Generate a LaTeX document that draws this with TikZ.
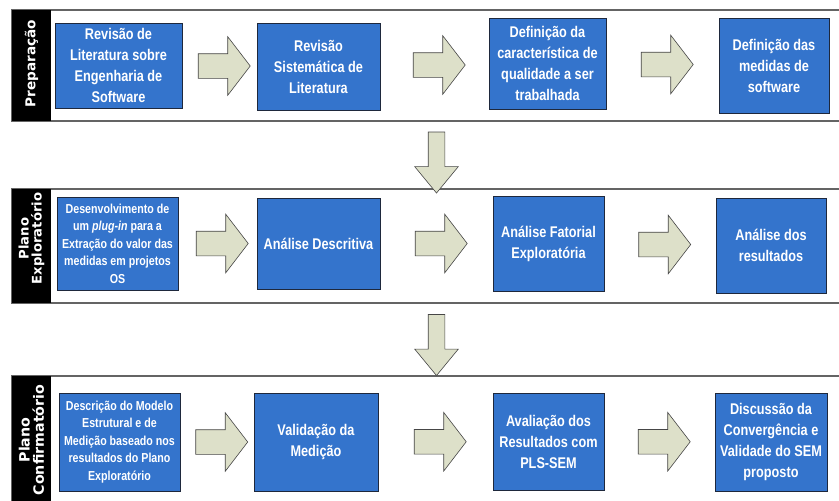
\documentclass[tikz,border=0pt]{standalone}
\usepackage{fontspec}
\setmainfont{Liberation Sans}
\newfontfamily\estreita[FakeStretch=0.82]{Liberation Sans}
\newfontfamily\rotulo{DejaVu Sans}
\usetikzlibrary{shapes.arrows,calc}
\definecolor{azulEtapa}{RGB}{52,116,204}
\definecolor{bordaEtapa}{RGB}{30,40,60}
\definecolor{cinzaSeta}{RGB}{221,224,201}
\definecolor{linhaFase}{RGB}{100,100,100}
\tikzset{
  etapa/.style={draw=bordaEtapa, line width=0.8pt, fill=azulEtapa, text=white,
    align=center, inner sep=2pt,
    font=\estreita\bfseries\fontsize{15.5}{21}\selectfont},
  etapaMenor/.style={etapa, font=\estreita\bfseries\fontsize{13}{17.5}\selectfont},
  seta/.style={single arrow, draw=gray!55!black, fill=cinzaSeta, line width=0.6pt,
    inner xsep=0pt, inner ysep=12pt, minimum width=58pt, minimum height=52pt,
    single arrow head extend=17pt, single arrow tip angle=105},
  setaBaixo/.style={seta, rotate=-90, inner ysep=8pt, minimum width=43pt,
    minimum height=61pt, single arrow head extend=13.5pt, single arrow tip angle=79},
  faixa/.style={draw=linhaFase, line width=1.2pt, fill=white},
  fase/.style={text=white, align=center, rotate=90, inner sep=0pt,
    font=\rotulo\bfseries\fontsize{#1}{#1}\selectfont},
  fase/.default=14
}
\begin{document}
\begin{tikzpicture}[x=1pt,y=-1pt]
  \useasboundingbox (0,0) rectangle (839,501);
  % faixas das fases
  \foreach \yt/\yb in {10/121, 189/303, 376/520} {
    \draw[faixa] (12,\yt) rectangle (860,\yb);
    \fill[black] (12,\yt) rectangle (51,\yb);
  }
  \node[fase=13.6] (f1) at (31.5,63.5) {Preparação};
  \node[fase=13.2] (f2) at (31.5,238.5) {Plano\\Exploratório};
  \node[fase=14.2] (f3) at (31.5,440) {Plano\\Confirmatório};

  % preparacao
  \node[etapa, minimum width=127pt, minimum height=85pt] (p1) at (118.5,65.5)
    {Revisão de\\Literatura sobre\\Engenharia de\\Software};
  \node[etapa, minimum width=123pt, minimum height=87pt] (p2) at (318.5,66.5)
    {Revisão\\Sistemática de\\Literatura};
  \node[etapa, minimum width=117pt, minimum height=91pt] (p3) at (547.5,63.5)
    {Definição da\\característica de\\qualidade a ser\\trabalhada};
  \node[etapa, minimum width=110pt, minimum height=95pt] (p4) at (774,65.5)
    {Definição das\\medidas de\\software};

  % plano exploratorio
  \node[etapaMenor, minimum width=121pt, minimum height=93pt] (e1) at (117.5,243.5)
    {Desenvolvimento de\\um \textit{plug-in} para a\\Extração do valor das\\medidas em projetos\\OS};
  \node[etapa, minimum width=123pt, minimum height=91pt] (e2) at (318.5,243.5)
    {Análise Descritiva};
  \node[etapa, minimum width=111pt, minimum height=95pt] (e3) at (548.5,243.5)
    {Análise Fatorial\\Exploratória};
  \node[etapa, minimum width=110pt, minimum height=95pt] (e4) at (771,245.5)
    {Análise dos\\resultados};

  % plano confirmatorio
  \node[etapaMenor, minimum width=121pt, minimum height=98pt] (c1) at (119.5,442)
    {Descrição do Modelo\\Estrutural e de\\Medição baseado nos\\resultados do Plano\\Exploratório};
  \node[etapa, minimum width=124pt, minimum height=98pt] (c2) at (316,442)
    {Validação da\\Medição};
  \node[etapa, minimum width=111pt, minimum height=97pt] (c3) at (548.5,441.5)
    {Avaliação dos\\Resultados com\\PLS-SEM};
  \node[etapa, minimum width=112pt, minimum height=98pt] (c4) at (771,442)
    {Discussão da\\Convergência e\\Validade do SEM\\proposto};

  % setas entre etapas
  \foreach \a/\b in {p1/p2, p2/p3, p3/p4, e1/e2, e2/e3, e3/e4, c1/c2, c2/c3, c3/c4}
    \node[seta] (s\a) at ($(\a.east)!0.5!(\b.west)$) {};

  % setas entre fases
  \node[setaBaixo] (d1) at (436.5,157.5) {};
  \node[setaBaixo] (d2) at (436.5,340) {};
\end{tikzpicture}
\end{document}
